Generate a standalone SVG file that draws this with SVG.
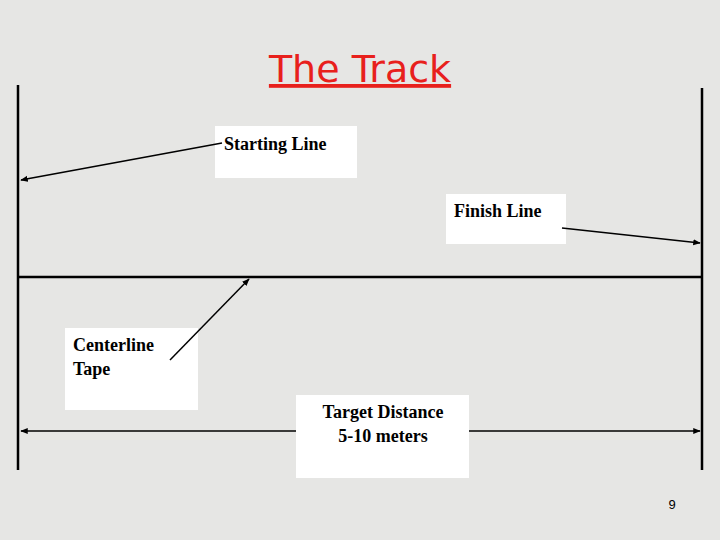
<svg xmlns="http://www.w3.org/2000/svg" width="720" height="540" viewBox="0 0 720 540">
<defs>
<marker id="ah" viewBox="0 0 10 10" refX="9" refY="5" markerWidth="5" markerHeight="5" orient="auto-start-reverse"><path d="M0,1 L10,5 L0,9 z" fill="#000"/></marker>
</defs>
<style>
.box{fill:#fff}
.lbl{font-family:"Liberation Serif",serif;font-weight:bold;font-size:18px;fill:#000}
.ln{stroke:#000;stroke-width:2.5;fill:none}
.ar{stroke:#000;stroke-width:1.5;fill:none;marker-end:url(#ah)}
</style>
<rect width="720" height="540" fill="#e6e6e4"/>
<text x="360" y="82" text-anchor="middle" font-family="DejaVu Sans, sans-serif" font-size="38" fill="#e8201c" text-decoration="underline">The Track</text>
<g id="track">
<line class="ln" x1="18" y1="85" x2="18" y2="470"/>
<line class="ln" x1="702" y1="88" x2="702" y2="470"/>
<line class="ln" x1="18" y1="277" x2="702" y2="277"/>
</g>
<g id="starting"><rect class="box" x="215" y="126" width="142" height="52"/><text class="lbl" x="224" y="150" font-weight="normal">Starting Line</text></g>
<g id="finish"><rect class="box" x="446" y="194" width="120" height="50"/><text class="lbl" x="454" y="217">Finish Line</text></g>
<g id="centerline"><rect class="box" x="65" y="328" width="133" height="82"/><text class="lbl" x="73" y="351">Centerline</text><text class="lbl" x="73" y="375">Tape</text></g>
<g id="target"><rect class="box" x="296" y="395" width="173" height="83"/><text class="lbl" x="383" y="418" text-anchor="middle">Target Distance</text><text class="lbl" x="383" y="442" text-anchor="middle">5-10 meters</text></g>
<g id="connectors">
<line class="ar" x1="222" y1="143" x2="21" y2="180"/>
<line class="ar" x1="562" y1="228" x2="700" y2="243"/>
<line class="ar" x1="170" y1="360" x2="249" y2="279"/>
<line class="ar" x1="296" y1="431" x2="21" y2="431"/>
<line class="ar" x1="469" y1="431" x2="700" y2="431"/>
</g>
<text x="672" y="509" text-anchor="middle" font-family="Liberation Sans, sans-serif" font-size="13" fill="#000">9</text>
</svg>
